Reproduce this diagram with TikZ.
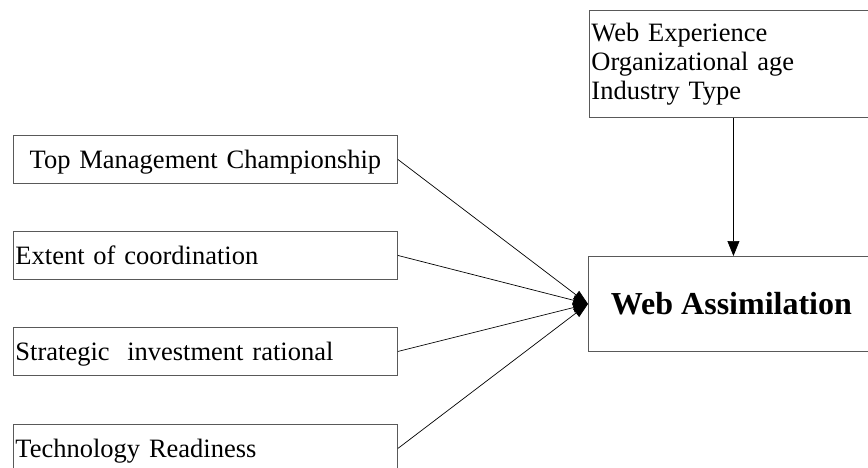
\documentclass[tikz,border=0pt]{standalone}
\usepackage{fontspec}
\setmainfont{Liberation Serif}
\usetikzlibrary{arrows.meta}

\begin{document}
\begin{tikzpicture}[x=1pt,y=-1pt,
  box/.style={draw=black!65,line width=0.9pt,inner xsep=2pt,inner ysep=0pt,font=\fontsize{26.5}{29}\selectfont},
  factor/.style={box,anchor=north west,minimum width=384pt,minimum height=48pt,text width=380pt,align=left,text height=19pt,text depth=0pt},
  link/.style={line width=0.7pt,-{Triangle[length=15pt,width=10pt]}}]
  \clip (0,0) rectangle (868,468);
  % antecedents on the left
  \node[factor,align=center] (tmc) at (13,135) {Top Management Championship};
  \node[factor] (eoc) at (13,231) {Extent of coordination};
  \node[factor] (sir) at (13,327) {Strategic\ \ investment rational};
  \node[factor] (tr) at (13,424) {Technology Readiness};
  % outcome and controls
  \node[box,anchor=north west,minimum width=286pt,minimum height=95pt,font=\bfseries\fontsize{32}{36}\selectfont] (wa) at (588,256) {Web Assimilation};
  \node[box,anchor=north west,minimum width=288pt,minimum height=107pt,text width=284pt,align=left] (ctrl) at (589,10) {Web Experience\\Organizational age\\Industry Type};
  \foreach \f in {tmc,eoc,sir,tr}
    \draw[link] (\f.east) -- (wa.west);
  \draw[link,-{Triangle[length=15pt,width=12pt]}] (ctrl.south) -- (ctrl.south |- wa.north);
\end{tikzpicture}
\end{document}
